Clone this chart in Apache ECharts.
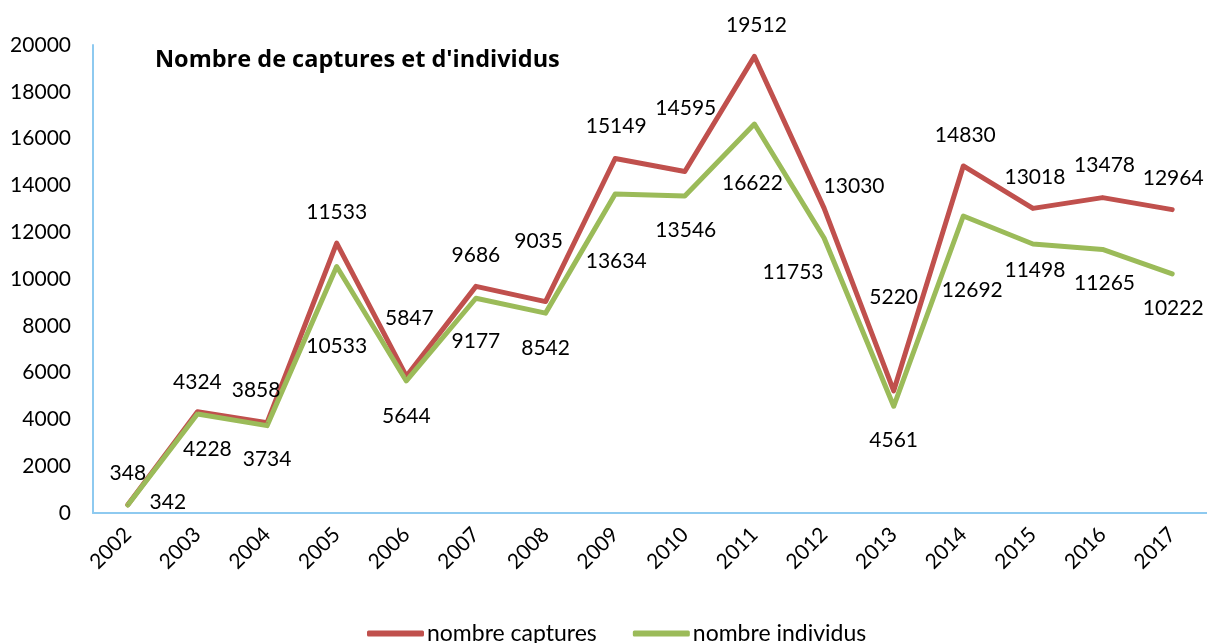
<!DOCTYPE html>
<html>
<head>
    <meta charset="utf-8">
    <title>Nombre de captures et d'individus</title>
    <script src="https://cdn.jsdelivr.net/npm/echarts@6/dist/echarts.min.js"></script>
    <style>
        html, body { margin: 0; padding: 0; background: #fff; }
    </style>
</head>
<body>
<div id="main" style="width: 1207px;height:643px;"></div>
<script type="text/javascript">
var years = ['2002','2003','2004','2005','2006','2007','2008','2009','2010','2011','2012','2013','2014','2015','2016','2017'];
var captures = [348, 4324, 3858, 11533, 5847, 9686, 9035, 15149, 14595, 19512, 13030, 5220, 14830, 13018, 13478, 12964];
var individus = [342, 4228, 3734, 10533, 5644, 9177, 8542, 13634, 13546, 16622, 11753, 4561, 12692, 11498, 11265, 10222];
var yTicks = { min: 0, max: 20000, interval: 2000 };

// where each value label sits, relative to its point (as placed in the original)
var capLabelShift = [[0,-32],[0,-30],[-11,-32],[0,-31],[3,-58],[0,-31],[-7,-60],[1,-32],[1,-63],[2,-31],[30,-22],[0,-94],[2,-31],[2,-31],[2,-32],[1,-31]];
var indLabelShift = [[40,-3],[10,35],[0,34],[0,80],[0,35],[0,43],[0,35],[1,67],[1,34],[-2,59],[-31,34],[0,34],[9,74],[2,26],[2,34],[1,34]];

var font = 'Lato, "Open Sans", sans-serif';
var red = '#C0504D';
var green = '#9BBB59';
var axisBlue = '#8ECAF0';

function withLabels(values, shifts) {
    var out = [];
    for (var i = 0; i < values.length; i++) {
        out.push({ value: values[i], label: { offset: shifts[i] } });
    }
    return out;
}

var myChart = echarts.init(document.getElementById('main'));
var option = {
    animation: false,
    title: {
        text: "Nombre de captures et d'individus",
        left: 155,
        top: 48,
        padding: 0,
        textStyle: { fontFamily: '"Open Sans", Lato, sans-serif', fontSize: 23.5, fontWeight: 'bold', color: '#000' }
    },
    legend: {
        data: ['nombre captures', 'nombre individus'],
        bottom: -2,
        left: 367,
        padding: 0,
        itemWidth: 57,
        itemHeight: 6,
        itemGap: 36,
        icon: 'roundRect',
        textStyle: { fontFamily: font, fontSize: 23, color: '#000', padding: [0, 0, 0, -2] }
    },
    grid: {
        left: 93,
        right: 0,
        top: 45,
        bottom: 130
    },
    xAxis: {
        type: 'category',
        boundaryGap: true,
        data: years,
        axisLine: { lineStyle: { color: axisBlue, width: 2 } },
        axisTick: { show: false },
        axisLabel: { rotate: 45, margin: 18, fontFamily: font, fontSize: 21, color: '#000' }
    },
    yAxis: {
        type: 'value',
        min: yTicks.min,
        max: yTicks.max,
        interval: yTicks.interval,
        splitLine: { show: false },
        axisLine: { show: true, lineStyle: { color: axisBlue, width: 2 } },
        axisTick: { show: false },
        axisLabel: {
            margin: 22, fontFamily: font, fontSize: 21, color: '#000',
            formatter: function (v) { return String(v); }
        }
    },
    series: [
        {
            name: 'nombre captures',
            type: 'line',
            data: withLabels(captures, capLabelShift),
            symbol: 'circle',
            symbolSize: 1,
            itemStyle: { color: red },
            lineStyle: { color: red, width: 5, cap: 'round', join: 'round' },
            label: { show: true, position: 'inside', fontFamily: font, fontSize: 21, color: '#000' }
        },
        {
            name: 'nombre individus',
            type: 'line',
            data: withLabels(individus, indLabelShift),
            symbol: 'circle',
            symbolSize: 1,
            itemStyle: { color: green },
            lineStyle: { color: green, width: 5, cap: 'round', join: 'round' },
            label: { show: true, position: 'inside', fontFamily: font, fontSize: 21, color: '#000' }
        }
    ]
};
myChart.setOption(option);
window.onresize = function(){
    myChart.resize();
}
</script>
</body>
</html>
